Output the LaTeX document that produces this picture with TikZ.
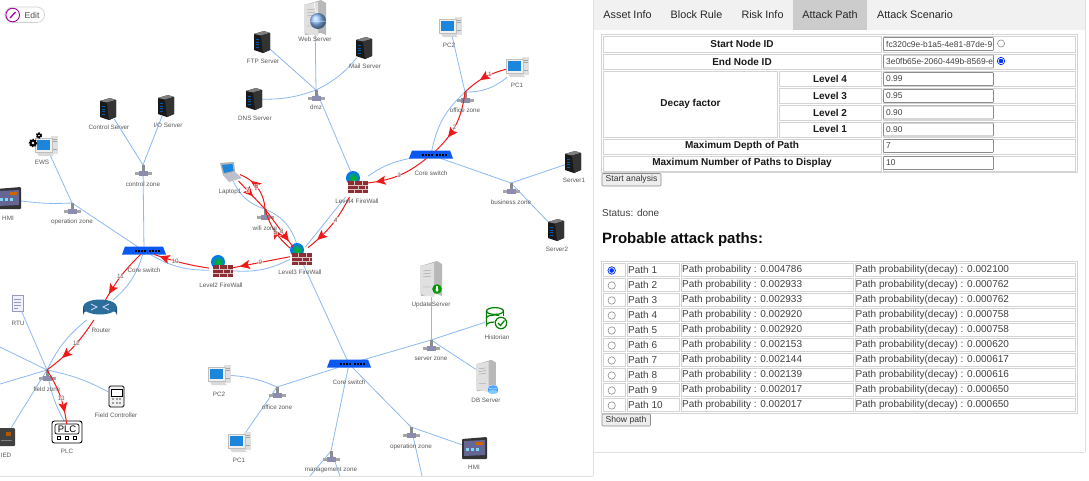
\documentclass[tikz,border=0pt]{standalone}
\usepackage{fontspec}
\setmainfont{Liberation Sans}
\usetikzlibrary{arrows.meta,decorations.markings,shapes.geometric}
\definecolor{edgeblue}{HTML}{8DB9F2}
\definecolor{redge}{HTML}{F01818}
\definecolor{switchblue}{HTML}{0A58F0}
\definecolor{cellgray}{HTML}{D4D4D4}
\definecolor{tabgray}{HTML}{F1F1F1}
\definecolor{tabon}{HTML}{CCCCCC}
\definecolor{scr}{HTML}{1C86DC}
\definecolor{brick}{HTML}{8C2F35}
\definecolor{HTMLside}{HTML}{1B4F7F}
\definecolor{HTMLtop}{HTML}{2C6E9A}
\tikzset{
 lab/.style={text=black!65,font=\fontsize{6.3}{7}\selectfont,inner sep=0pt},
 elab/.style={text=black!60,font=\fontsize{6.3}{7}\selectfont,inner sep=.4pt,fill=white,fill opacity=.6,text opacity=1},
 hit/.style 2 args={inner sep=0pt,outer sep=0pt,minimum width=#1pt,minimum height=#2pt},
 blue edge/.style={edgeblue,line width=.8pt},
 red edge/.style={redge,line width=1pt,postaction={decorate},
   decoration={markings,mark=at position #1 with {\arrow{Stealth[length=10pt,width=9pt,inset=2pt]}}}},
 tab/.style={font=\fontsize{10.8}{13}\selectfont,text=black!85,inner sep=0pt},
 th/.style={font=\bfseries\fontsize{10}{12}\selectfont,text=black!90,inner sep=0pt},
 td/.style={font=\fontsize{10}{12}\selectfont,text=black!75,inner sep=0pt,anchor=west},
 inp/.style={font=\fontsize{8.4}{10}\selectfont,text=black!75,inner sep=0pt,anchor=west},
 cell/.style={draw=cellgray,line width=.7pt,fill=white},
 inbox/.style={draw=black!45,line width=.6pt,fill=white,rounded corners=.8pt},
 btn/.style={draw=black!45,fill=black!7,line width=.6pt,rounded corners=1pt},
 btext/.style={font=\fontsize{8.6}{10}\selectfont,text=black!80,inner sep=0pt},
 srv/.pic={
   \fill[black!90] (-8,-8)--(2,-11)--(8,-9)--(8,8)--(1,11)--(-8,8)--cycle;
   \fill[black!50] (-8,-8)--(2,-11)--(8,-9)--(-1,-6.5)--cycle;
   \fill[black!80] (-1,-6.5)--(8,-9)--(8,8)--(1,11)--cycle;
   \foreach \k in {-3,-0.5,2,4.5}{\fill[blue!50!cyan!70!black] (-6,\k)--(-3,\k)--(-3,\k+1.2)--(-6,\k+1.2)--cycle;}
 },
 pcicon/.pic={
   \fill[black!12] (5,-10)--(12,-10)--(12,8)--(5,8)--cycle;
   \draw[black!35,line width=.4pt] (7,-7)--(11,-7) (7,-5)--(11,-5) (7,3)--(11,3);
   \fill[black!6,draw=black!25,line width=.3pt] (-11,-8)--(6,-8)--(6,6)--(-11,6)--cycle;
   \fill[scr] (-9,-6)--(4,-6)--(4,4)--(-9,4)--cycle;
   \fill[black!15] (-9,7)--(5,7)--(8,10)--(-7,10)--cycle;
 },
 hubicon/.pic={
   \fill[black!45] (-1.5,0)--(1.5,0)--(1.5,8)--(-1.5,8)--cycle;
   \fill[black!35] (-8.5,7)--(8.5,7)--(8.5,10)--(-8.5,10)--cycle;
   \fill[blue!30!black!45] (-4.5,6)--(4.5,6)--(4.5,11)--(-4.5,11)--cycle;
 },
 switchicon/.pic={
   \fill[switchblue] (-22,3.5)--(-19,-4.5)--(19,-4.5)--(22,3.5)--cycle;
   \foreach \k in {-9,-6,-3,0,5,8,11,14}{\fill[black] (\k,-1)--(\k+2,-1)--(\k+2,1)--(\k,1)--cycle;}
 },
 fwicon/.pic={
   \shade[inner color=green!75!black,outer color=blue!55!cyan] (-1,-7) circle (7);
   \fill[brick] (-6,-4)--(14,-4)--(14,8)--(-6,8)--cycle;
   \draw[white!70!brick,line width=.4pt] (-6,0)--(14,0) (-6,4)--(14,4) (0,-4)--(0,0) (8,-4)--(8,0) (4,0)--(4,4) (11,0)--(11,4) (0,4)--(0,8) (8,4)--(8,8);
 },
 routericon/.pic={
   \fill[HTMLside] (-17,-3)--(17,-3)--(17,5) arc[start angle=0,end angle=-180,x radius=17,y radius=7]--cycle;
   \fill[HTMLtop] (0,-3) ellipse (17 and 7.5);
   \draw[white!85!blue,line width=.8pt] (-9,-6)--(-3,-3)--(-9,0) (9,-6)--(3,-3)--(9,0);
 },
 hmiicon/.pic={
   \fill[black!80,rounded corners=1pt] (-12,-10)--(13,-12)--(13,10)--(-12,10)--cycle;
   \fill[blue!30!black!60] (-10,-8)--(11,-9)--(11,6)--(-10,7)--cycle;
   \fill[orange!80!black] (2,-7)--(9,-7)--(9,-4)--(2,-4)--cycle;
   \foreach \k in {-8,-3,2}{\fill[cyan!50] (\k,-1)--(\k+3,-1)--(\k+3,2)--(\k,2)--cycle;}
 },
 towericon/.pic={
   \fill[black!28] (-4,-15)--(6,-18)--(11,-15)--(11,17)--(6,15)--(-10,17)--(-11,-13)--cycle;
   \fill[black!12] (-11,-13)--(3,-16)--(3,18)--(-11,15)--cycle;
   \draw[black!45,line width=.3pt] (-8,-8)--(0,-9) (-8,-5)--(0,-6) (-8,-2)--(0,-3) (-8,8)--(0,8);
 },
 laptopicon/.pic={
   \fill[black!30] (-8,-9)--(6,-10)--(7,0)--(-5,3)--cycle;
   \fill[scr] (-6,-7)--(4.5,-8)--(5.5,-1)--(-4,1)--cycle;
   \fill[blue!20!black!25] (-5,3)--(7,0)--(14,6)--(1,10)--cycle;
 },
 gearicon/.pic={
   \draw[black,line width=1.5pt,dash pattern=on 1.4pt off 1.2pt] (0,0) circle (#1);
   \fill[black] (0,0) circle (#1);
   \fill[white] (0,0) circle (#1*.4);
 },
}
\begin{document}
\begin{tikzpicture}[x=1pt,y=-1pt]
\useasboundingbox (0,0) rectangle (1089,480);
\fill[white] (0,0) rectangle (1089,480);
\draw[black!12,line width=.8pt] (0,476)--(593,476) (593,0)--(593,476) (593,452)--(1085,452) (1085,0)--(1085,452);

% ---- anchors of the network
\node[hit={20}{24}] (web) at (315,18) {};
\node[hit={16}{20}] (ftp) at (262,42) {};
\node[hit={16}{20}] (mail) at (364,48) {};
\node[hit={16}{20}] (dns) at (254,99) {};
\coordinate (dmz) at (316,90);
\node[hit={20}{20}] (pcb) at (450,27) {};
\node[hit={22}{20}] (pca) at (517,67) {};
\coordinate (office) at (465,92);
\node[hit={40}{7}] (corea) at (431,155) {};
\node[hit={16}{20}] (srva) at (573,162) {};
\coordinate (biz) at (511,183);
\node[hit={16}{20}] (srvb) at (556,230) {};
\node[hit={24}{26}] (fwd) at (356,184) {};
\node[hit={16}{20}] (ctrl) at (108,109) {};
\node[hit={16}{20}] (ios) at (166,106) {};
\node[hit={20}{20}] (ews) at (46,146) {};
\coordinate (ctrlz) at (143,165);
\node[hit={24}{20}] (hmia) at (8,199) {};
\coordinate (opa) at (72,203);
\node[hit={20}{18}] (lap) at (230,172) {};
\coordinate (wifi) at (265,209);
\node[hit={18}{16}] (fwc) at (299,255) {};
\node[hit={24}{18}] (fwb) at (221,270) {};
\node[hit={42}{7}] (coreb) at (144,251) {};
\node[hit={32}{20}] (rou) at (100,310) {};
\node[hit={11}{16}] (rtu) at (18,303) {};
\coordinate (field) at (47,370);
\node[hit={16}{22}] (fctl) at (116,396) {};
\node[hit={4}{4}] (plc) at (67,426) {};
\node[hit={15}{17}] (ied) at (6,436) {};
\node[hit={20}{20}] (pcd) at (219,375) {};
\node[hit={20}{20}] (pcc) at (239,442) {};
\coordinate (officeb) at (277,387);
\node[hit={20}{36}] (upd) at (431,279) {};
\node[hit={20}{22}] (hist) at (495,319) {};
\coordinate (srvz) at (431,340);
\node[hit={20}{32}] (dbs) at (486,376) {};
\node[hit={42}{7}] (corec) at (349,364) {};
\coordinate (opb) at (411,427);
\node[hit={24}{20}] (hmib) at (474,449) {};
\coordinate (mgmt) at (331,451);
\coordinate (offa) at (0,347);
\coordinate (offb) at (0,384);
\coordinate (offc) at (422,476);
\coordinate (offd) at (310,476);
\coordinate (offe) at (340,476);

% ---- plain links
\begin{scope}[blue edge]
\draw (web)--(dmz);
\draw (ftp)--(dmz);
\draw (mail) to[bend left=12] (dmz);
\draw (dns) to[bend right=10] (dmz);
\draw (dmz)--(fwd);
\draw (pcb)--(office);
\draw (pca) to[bend left=20] (office);
\draw (office) to[bend right=18] (corea);
\draw (corea) to[bend right=12] (fwd);
\draw (corea)--(biz);
\draw (biz)--(srva);
\draw (biz)--(srvb);
\draw (fwd)--(fwc);
\draw (ctrl)--(ctrlz);
\draw (ios)--(ctrlz);
\draw (ctrlz)--(coreb);
\draw (ews)--(opa);
\draw (hmia) to[bend right=5] (opa);
\draw (opa)--(coreb);
\draw (lap) to[bend right=24] (wifi);
\draw (wifi) to[bend left=26] (fwc);
\draw (coreb) to[bend right=15] (fwb);
\draw (fwb) to[bend right=15] (fwc);
\draw (coreb) to[bend left=16] (rou);
\draw (rou) to[bend right=12] (field);
\draw (rtu)--(field);
\draw (offa)--(field);
\draw (offb)--(field);
\draw (ied)--(field);
\draw (field) to[bend right=10] (plc);
\draw (field) to[bend left=8] (fctl);
\draw (fwc)--(corec);
\draw (corec)--(srvz);
\draw (srvz)--(upd);
\draw (srvz)--(hist);
\draw (srvz)--(dbs);
\draw (corec)--(opb);
\draw (opb)--(hmib);
\draw (opb)--(offc);
\draw (corec)--(mgmt);
\draw (mgmt)--(offd);
\draw (mgmt)--(offe);
\draw (corec)--(officeb);
\draw (officeb) to[bend right=10] (pcd);
\draw (officeb)--(pcc);
\end{scope}

% ---- icons
\pic at (262,42) {srv};
\pic at (364,48) {srv};
\pic at (254,99) {srv};
\pic at (573,162) {srv};
\pic at (556,230) {srv};
\pic at (108,109) {srv};
\pic at (166,106) {srv};
\pic at (315,18) {towericon};
\shade[ball color=cyan!45!blue!45] (318,21) circle (8);
\draw[white,line width=.5pt] (318,13) arc[start angle=90,end angle=270,x radius=3.5,y radius=8] (310,21)--(326,21);
\pic at (450,27) {pcicon};
\pic at (517,67) {pcicon};
\pic at (46,146) {pcicon};
\pic at (33,143) {gearicon=3.5};
\pic at (39,135.5) {gearicon=2.4};
\pic at (219,375) {pcicon};
\pic at (239,442) {pcicon};
\pic at (465,92) {hubicon};
\pic at (316,90) {hubicon};
\pic at (511,183) {hubicon};
\pic at (143,165) {hubicon};
\pic at (72,203) {hubicon};
\pic at (265,209) {hubicon};
\pic at (47,370) {hubicon};
\pic at (277,387) {hubicon};
\pic at (431,340) {hubicon};
\pic at (411,427) {hubicon};
\pic at (331,451) {hubicon};
\pic at (431,155) {switchicon};
\pic at (144,251) {switchicon};
\pic at (349,364) {switchicon};
\pic at (354,185) {fwicon};
\pic at (298,257) {fwicon};
\pic at (219,269) {fwicon};
\pic at (100,310) {routericon};
\pic at (8,199) {hmiicon};
\pic at (474,449) {hmiicon};
\pic at (228,172) {laptopicon};
% RTU
\fill[blue!6,draw=blue!30!black!40,line width=.6pt] (12,295) rectangle (23,311);
\draw[blue!30!black!40,line width=.6pt] (14,299)--(21,299) (14,302)--(21,302) (14,305)--(21,305) (14,308)--(18,308);
% IED
\fill[black!75,rounded corners=1pt] (-2,428) rectangle (15,446);
\fill[orange!70!black] (6,432) rectangle (11,436);
\draw[black!50,line width=.4pt] (1,440)--(12,440);
% Field controller
\draw[black,line width=.8pt,rounded corners=1.5pt,fill=black!6] (109,386) rectangle (124,407);
\fill[white,draw=black,line width=.5pt] (111,389) rectangle (122,396);
\foreach \a/\b in {113/399,117/399,120/399,113/403,117/403,120/403}{\fill[black!70] (\a,\b) circle (.9);}
% PLC
\draw[black,line width=.9pt,rounded corners=2.5pt,fill=white] (52,421) rectangle (82,443);
\draw[black,line width=.7pt,rounded corners=2pt] (55,424) rectangle (79,434);
\node[inner sep=0pt,font=\fontsize{9.5}{10}\selectfont,text=black] (plctext) at (67,429) {PLC};
\foreach \a in {59,67,75}{\draw[black,line width=.7pt] (\a-1.6,436.4) rectangle (\a+1.6,439.8);}
% Historian
\begin{scope}[line width=1.2pt]
\draw[green!50!black] (495,311) ellipse (8.5 and 3.4);
\draw[green!50!black] (486.5,311)--(486.5,325) arc[start angle=180,end angle=320,x radius=8.5,y radius=3];
\draw[green!50!black] (503.5,311)--(503.5,316);
\draw[green!50!black] (486.5,318) arc[start angle=180,end angle=300,x radius=8.5,y radius=3];
\fill[white] (501,323) circle (6.8);
\draw[green!50!black] (501,323) circle (5.7);
\draw[green!50!black] (498,323)--(500.5,325.5)--(504.5,320.5);
\end{scope}
% UpdateServer
\pic at (431,279) {towericon};
\fill[green!60!black] (437,289) circle (4.8);
\fill[white] (436,286) rectangle (438,290);
\fill[white] (435,289.5)--(439,289.5)--(437,292)--cycle;
% DB server
\pic[scale=.9] at (486,376) {towericon};
\fill[blue!50!cyan!70] (493,387) ellipse (5 and 2);
\fill[blue!50!cyan!70] (488,387) rectangle (498,392);
\fill[blue!40!cyan!50] (493,392) ellipse (5 and 2);
\draw[white,line width=.3pt] (493,387) ellipse (5 and 2);

% ---- attack path
\draw[red edge=.6] (pca) to[bend right=14] node[elab,pos=.35] (e1) {1} (office);
\draw[red edge=.72] (office) to[bend left=20] node[elab,pos=.55] (e2) {2} (corea);
\draw[red edge=.88] (corea) to[bend left=16] node[elab,pos=.5] (e3) {3} (fwd);
\draw[red edge=.82] (fwd) to[bend left=12] node[elab,pos=.4] (e4) {4} (fwc);
\draw[red edge=.55] (fwc) to[bend left=16] node[elab,pos=.45] (e5) {5} (wifi);
\draw[red edge=.72] (wifi) to[bend right=32] node[elab,pos=.55] (e6) {6} (lap);
\draw[red edge=.55] (lap)--(wifi) node[elab,pos=.35] (e7) {7};
\draw[red edge=.85] (wifi)--(fwc) node[elab,pos=.6] (e8) {8};
\draw[red edge=.88] (fwc)--(fwb) node[elab,pos=.52] (e9) {9};
\draw[red edge=.9] (fwb) to[bend left=5] node[elab,pos=.62] (e10) {10} (coreb);
\draw[red edge=.88] (coreb) to[bend right=8] node[elab,pos=.52] (e11) {11} (rou);
\draw[red edge=.72] (rou) to[bend left=10] node[elab,pos=.42] (e12) {12} (field);
\draw[red edge=.8] (field) to[bend left=12] node[elab,pos=.55] (e13) {13} (plc);

% ---- labels
\node[lab] (tweb) at (315,39) {Web Server};
\node[lab] (tftp) at (263,61) {FTP Server};
\node[lab] (tmail) at (365,66.5) {Mail Server};
\node[lab] (tdns) at (255,118) {DNS Server};
\node[lab] (tdmz) at (316,107.5) {dmz};
\node[lab] (tpcb) at (449,45) {PC2};
\node[lab] (tpca) at (517,85.5) {PC1};
\node[lab] (toff) at (465,110.5) {office zone};
\node[lab] (tcorea) at (431,173.5) {Core switch};
\node[lab] (tsrva) at (574,180) {Server1};
\node[lab] (tbiz) at (511,202) {business zone};
\node[lab] (tsrvb) at (557,249) {Server2};
\node[lab] (tfwd) at (357,201.5) {Level4 FireWall};
\node[lab] (tctrl) at (109,127) {Control Server};
\node[lab] (tios) at (168,125.5) {I/O Server};
\node[lab] (tews) at (42,162.5) {EWS};
\node[lab] (tctrlz) at (143,184.5) {control zone};
\node[lab] (thmia) at (8,218) {HMI};
\node[lab] (topa) at (72,222) {operation zone};
\node[lab] (tlap) at (230,191.5) {Laptop1};
\node[lab] (twifi) at (265,228.5) {wifi zone};
\node[lab] (tfwc) at (300,272.5) {Level3 FireWall};
\node[lab] (tfwb) at (221,285.5) {Level2 FireWall};
\node[lab] (tcoreb) at (144,270) {Core switch};
\node[lab] (trou) at (101,330) {Router};
\node[lab] (trtu) at (18,323.5) {RTU};
\node[lab] (tfield) at (47,389.5) {field zone};
\node[lab] (tfctl) at (116,415.5) {Field Controller};
\node[lab] (tplc) at (67,451) {PLC};
\node[lab] (tied) at (6,455.5) {IED};
\node[lab] (tpcd) at (219,394) {PC2};
\node[lab] (tpcc) at (239,460.5) {PC1};
\node[lab] (toffb) at (277,407.5) {office zone};
\node[lab] (tupd) at (431,304.5) {UpdateServer};
\node[lab] (thist) at (497,337) {Historian};
\node[lab] (tsrvz) at (431,358.5) {server zone};
\node[lab] (tdbs) at (486,400.5) {DB Server};
\node[lab] (tcorec) at (349,382.5) {Core switch};
\node[lab] (topb) at (411,446.5) {operation zone};
\node[lab] (thmib) at (474,467.5) {HMI};
\node[lab] (tmgmt) at (331,470.5) {management zone};

% ---- edit button
\draw[black!18,line width=.6pt,fill=white,rounded corners=7.5pt] (5,7) rectangle (44.5,22.5);
\draw[violet!70!magenta,line width=.9pt] (12.7,15) circle (6.8);
\draw[violet!70!magenta,line width=1.3pt] (10,18)--(15.5,12);
\node[font=\fontsize{8.6}{9}\selectfont,text=black!70,inner sep=0pt] (edit) at (32,15) {Edit};

% ---- tabs
\fill[tabgray] (594,0) rectangle (1085,30);
\fill[tabon] (793,0) rectangle (867,30);
\node[tab] (t1) at (627.5,15) {Asset Info};
\node[tab] (t2) at (696.5,15) {Block Rule};
\node[tab] (t3) at (762.5,15) {Risk Info};
\node[tab] (t4) at (830,15) {Attack Path};
\node[tab] (t5) at (915,15) {Attack Scenario};

% ---- form
\draw[cellgray,line width=.7pt] (601.5,34.5) rectangle (1077,172.5);
\draw[cell] (603,36) rectangle (881,52);
\draw[cell] (603,54) rectangle (881,69.5);
\draw[cell] (603,71.5) rectangle (777,137);
\foreach \a/\b in {71.5/86.5,88.5/103.5,105.5/120.5,122/137}{\draw[cell] (779,\a) rectangle (881,\b);}
\draw[cell] (603,139) rectangle (881,154);
\draw[cell] (603,156) rectangle (881,171);
\foreach \a/\b in {36/52,54/69.5,71.5/86.5,88.5/103.5,105.5/120.5,122/137,139/154,156/171}{\draw[cell] (883,\a) rectangle (1075.5,\b);}
\node[th] (h1) at (742,44) {Start Node ID};
\node[th] (h2) at (742,61.5) {End Node ID};
\node[th] (h3) at (690.5,104) {Decay factor};
\node[th] (h4) at (830,78.5) {Level 4};
\node[th] (h5) at (830,95.5) {Level 3};
\node[th] (h6) at (830,112.5) {Level 2};
\node[th] (h7) at (830,129) {Level 1};
\node[th] (h8) at (742,146) {Maximum Depth of Path};
\node[th] (h9) at (742,162.5) {Maximum Number of Paths to Display};
\foreach \n/\a/\v in {a/44/fc320c9e-b1a5-4e81-87de-9,b/61.5/3e0fb65e-2060-449b-8569-e,c/79/0.99,d/96/0.95,e/112.5/0.90,f/129.5/0.90,g/146/7,h/163/10}{
  \draw[inbox] (883.5,\a-6.5) rectangle (993.5,\a+6.5);
  \node[inp] (v\n) at (886,\a) {\v};
}
\draw[black!45,line width=.6pt,fill=white] (1001,43.5) circle (3.6);
\draw[blue!80!cyan,line width=.7pt,fill=white] (1001,61) circle (3.7);
\fill[blue!80!cyan] (1001,61) circle (2.3);
\draw[btn] (602,173.5) rectangle (661,186);
\node[btext] (bstart) at (631.5,179.5) {Start analysis};
\node[td] (status) at (602,213) {Status: done};
\node[font=\bfseries\fontsize{15}{18}\selectfont,text=black!95,inner sep=0pt,anchor=west] (head) at (602,240) {Probable attack paths:};

% ---- results
\draw[cellgray,line width=.7pt] (601.5,261.5) rectangle (1077,413);
\foreach \i/\p/\q in {0/0.004786/0.002100,1/0.002933/0.000762,2/0.002933/0.000762,3/0.002920/0.000758,4/0.002920/0.000758,5/0.002153/0.000620,6/0.002144/0.000617,7/0.002139/0.000616,8/0.002017/0.000650,9/0.002017/0.000650}{
  \pgfmathsetmacro{\yy}{263.2+15*\i}
  \pgfmathsetmacro{\yb}{\yy+13.4}
  \pgfmathsetmacro{\yc}{\yy+6.8}
  \pgfmathtruncatemacro{\pn}{\i+1}
  \draw[cell] (603,\yy) rectangle (625,\yb);
  \draw[cell] (627,\yy) rectangle (679,\yb);
  \draw[cell] (681,\yy) rectangle (853,\yb);
  \draw[cell] (855,\yy) rectangle (1075.5,\yb);
  \draw[black!45,line width=.6pt,fill=white] (611.7,\yy+7.3) circle (3.7);
  \node[td] (pn\i) at (628,\yc) {Path \pn};
  \node[td] (pp\i) at (682,\yc) {Path probability : \p};
  \node[td] (pq\i) at (855.5,\yc) {Path probability(decay) : \q};
}
\draw[blue!80!cyan,line width=.7pt,fill=white] (611.7,270.5) circle (3.7);
\fill[blue!80!cyan] (611.7,270.5) circle (2.3);
\draw[btn] (602,414) rectangle (650.5,426);
\node[btext] (bshow) at (626,420) {Show path};
\end{tikzpicture}
\end{document}
